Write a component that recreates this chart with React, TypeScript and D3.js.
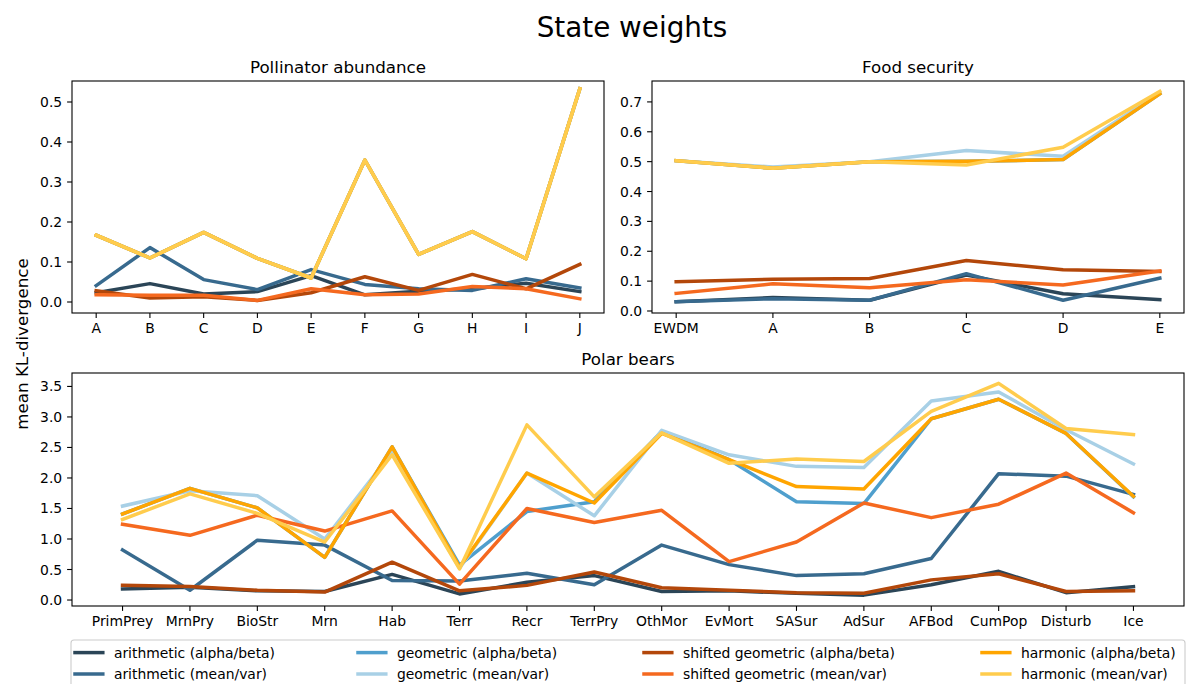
import React from "react";
import * as d3 from "d3";

// ---- categories ----
const pollinatorCats = ["A", "B", "C", "D", "E", "F", "G", "H", "I", "J"];
const foodCats = ["EWDM", "A", "B", "C", "D", "E"];
const polarCats = [
  "PrimPrey", "MrnPry", "BioStr", "Mrn", "Hab", "Terr", "Recr", "TerrPry",
  "OthMor", "EvMort", "SASur", "AdSur", "AFBod", "CumPop", "Disturb", "Ice",
];

// ---- series (legend order = draw order) ----
const seriesNames = [
  "arithmetic (alpha/beta)",
  "arithmetic (mean/var)",
  "geometric (alpha/beta)",
  "geometric (mean/var)",
  "shifted geometric (alpha/beta)",
  "shifted geometric (mean/var)",
  "harmonic (alpha/beta)",
  "harmonic (mean/var)",
];
const seriesColors = [
  "#2b4557", "#386a8e", "#4f9fcd", "#a8d0e6",
  "#b3470a", "#f5691f", "#ffa500", "#ffcc4d",
];

// ---- Pollinator abundance ----
const polArithAB = [0.023, 0.046, 0.020, 0.026, 0.066, 0.018, 0.027, 0.033, 0.047, 0.026];
const polArithMV = [0.041, 0.136, 0.056, 0.031, 0.081, 0.044, 0.033, 0.029, 0.058, 0.035];
const polGeomAB = [0.167, 0.110, 0.174, 0.109, 0.060, 0.355, 0.119, 0.176, 0.108, 0.533];
const polGeomMV = [0.167, 0.110, 0.174, 0.109, 0.060, 0.355, 0.119, 0.176, 0.108, 0.533];
const polShiftAB = [0.028, 0.010, 0.013, 0.004, 0.023, 0.063, 0.029, 0.069, 0.033, 0.094];
const polShiftMV = [0.018, 0.017, 0.017, 0.004, 0.033, 0.018, 0.020, 0.039, 0.033, 0.008];
const polHarmAB = [0.167, 0.110, 0.174, 0.109, 0.060, 0.355, 0.119, 0.176, 0.108, 0.533];
const polHarmMV = [0.167, 0.110, 0.174, 0.109, 0.060, 0.355, 0.119, 0.176, 0.108, 0.533];

// ---- Food security ----
const foodArithAB = [0.031, 0.045, 0.036, 0.120, 0.058, 0.038];
const foodArithMV = [0.031, 0.041, 0.036, 0.125, 0.036, 0.110];
const foodGeomAB = [0.503, 0.478, 0.500, 0.501, 0.507, 0.727];
const foodGeomMV = [0.503, 0.482, 0.500, 0.537, 0.518, 0.731];
const foodShiftAB = [0.098, 0.106, 0.109, 0.169, 0.138, 0.132];
const foodShiftMV = [0.059, 0.091, 0.078, 0.105, 0.087, 0.134];
const foodHarmAB = [0.503, 0.478, 0.500, 0.501, 0.507, 0.727];
const foodHarmMV = [0.503, 0.478, 0.500, 0.489, 0.548, 0.735];

// ---- Polar bears ----
const bearArithAB = [0.18, 0.21, 0.15, 0.14, 0.42, 0.10, 0.29, 0.40, 0.14, 0.15, 0.11, 0.08, 0.25, 0.47, 0.12, 0.22];
const bearArithMV = [0.82, 0.16, 0.98, 0.90, 0.32, 0.31, 0.44, 0.25, 0.90, 0.58, 0.40, 0.43, 0.68, 2.07, 2.03, 1.73];
const bearGeomAB = [1.41, 1.83, 1.51, 0.70, 2.51, 0.57, 1.45, 1.61, 2.76, 2.30, 1.61, 1.58, 2.97, 3.29, 2.73, 1.69];
const bearGeomMV = [1.54, 1.79, 1.71, 1.00, 2.42, 0.52, 2.08, 1.38, 2.78, 2.38, 2.19, 2.17, 3.26, 3.41, 2.79, 2.23];
const bearShiftAB = [0.24, 0.22, 0.16, 0.13, 0.62, 0.15, 0.24, 0.46, 0.20, 0.16, 0.12, 0.11, 0.33, 0.43, 0.14, 0.15];
const bearShiftMV = [1.24, 1.06, 1.39, 1.13, 1.46, 0.26, 1.50, 1.27, 1.47, 0.63, 0.95, 1.59, 1.35, 1.57, 2.08, 1.43];
const bearHarmAB = [1.41, 1.83, 1.51, 0.70, 2.51, 0.54, 2.08, 1.59, 2.73, 2.30, 1.86, 1.82, 2.97, 3.29, 2.73, 1.70];
const bearHarmMV = [1.32, 1.74, 1.42, 0.95, 2.38, 0.51, 2.87, 1.69, 2.74, 2.24, 2.31, 2.27, 3.09, 3.55, 2.81, 2.71];

const pollinatorSeries = [polArithAB, polArithMV, polGeomAB, polGeomMV, polShiftAB, polShiftMV, polHarmAB, polHarmMV];
const foodSeries = [foodArithAB, foodArithMV, foodGeomAB, foodGeomMV, foodShiftAB, foodShiftMV, foodHarmAB, foodHarmMV];
const bearSeries = [bearArithAB, bearArithMV, bearGeomAB, bearGeomMV, bearShiftAB, bearShiftMV, bearHarmAB, bearHarmMV];

const pollinatorTicks = [0, 0.1, 0.2, 0.3, 0.4, 0.5];
const foodTicks = [0, 0.1, 0.2, 0.3, 0.4, 0.5, 0.6, 0.7];
const bearTicks = [0, 0.5, 1, 1.5, 2, 2.5, 3, 3.5];

const FONT = "'DejaVu Sans', sans-serif";
const TICK_FS = 13.9;
const LINE_W = 3.5;

type PanelProps = {
  title: string;
  cats: string[];
  series: number[][];
  ticks: number[];
  yDomain: [number, number];
  left: number;
  right: number;
  top: number;
  bottom: number;
};

function Panel({ title, cats, series, ticks, yDomain, left, right, top, bottom }: PanelProps) {
  const n = cats.length;
  const pad = 0.05 * (n - 1);
  const x = d3.scaleLinear().domain([-pad, n - 1 + pad]).range([left, right]);
  const y = d3.scaleLinear().domain(yDomain).range([bottom, top]);
  const fmt = d3.format(".1f");
  const line = d3
    .line<number>()
    .x((_, i) => x(i))
    .y((d) => y(d));
  const tickLen = 4.9;
  const clipId = `clip-${title.replace(/\s/g, "")}`;
  return (
    <g>
      <defs>
        <clipPath id={clipId}>
          <rect x={left} y={top} width={right - left} height={bottom - top} />
        </clipPath>
      </defs>
      <g clipPath={`url(#${clipId})`}>
        {series.map((vals, si) => (
          <path
            key={si}
            d={line(vals) || ""}
            fill="none"
            stroke={seriesColors[si]}
            strokeWidth={LINE_W}
            strokeLinejoin="round"
            strokeLinecap="square"
          />
        ))}
      </g>
      <rect
        x={left}
        y={top}
        width={right - left}
        height={bottom - top}
        fill="none"
        stroke="#000"
        strokeWidth={1.1}
      />
      {ticks.map((t) => (
        <g key={`y${t}`}>
          <line x1={left} x2={left - tickLen} y1={y(t)} y2={y(t)} stroke="#000" strokeWidth={1.1} />
          <text
            x={left - tickLen - 4.9}
            y={y(t)}
            dy="0.36em"
            textAnchor="end"
            fontSize={TICK_FS}
            fontFamily={FONT}
            fill="#000"
          >
            {fmt(t)}
          </text>
        </g>
      ))}
      {cats.map((c, i) => (
        <g key={`x${c}${i}`}>
          <line x1={x(i)} x2={x(i)} y1={bottom} y2={bottom + tickLen} stroke="#000" strokeWidth={1.1} />
          <text
            x={x(i)}
            y={bottom + tickLen + 4.9}
            dy="0.76em"
            textAnchor="middle"
            fontSize={TICK_FS}
            fontFamily={FONT}
            fill="#000"
          >
            {c}
          </text>
        </g>
      ))}
      <text
        x={(left + right) / 2}
        y={top - 8.3}
        textAnchor="middle"
        fontSize={16.7}
        fontFamily={FONT}
        fill="#000"
      >
        {title}
      </text>
    </g>
  );
}

function Legend() {
  const boxLeft = 71;
  const boxRight = 1185;
  const boxTop = 640;
  const colX = [75, 358, 644, 982];
  const rowY = [652.6, 674];
  return (
    <g>
      <rect
        x={boxLeft}
        y={boxTop}
        width={boxRight - boxLeft}
        height={70}
        rx={3}
        fill="#fff"
        fillOpacity={0.8}
        stroke="#cccccc"
        strokeWidth={1.1}
      />
      {seriesNames.map((name, i) => {
        const col = Math.floor(i / 2);
        const row = i % 2;
        const hx = colX[col];
        const hy = rowY[row];
        return (
          <g key={name}>
            <line x1={hx} x2={hx + 27.8} y1={hy} y2={hy} stroke={seriesColors[i]} strokeWidth={LINE_W} strokeLinecap="square" />
            <text x={hx + 38.9} y={hy} dy="0.36em" fontSize={TICK_FS} fontFamily={FONT} fill="#000">
              {name}
            </text>
          </g>
        );
      })}
    </g>
  );
}

export default function App() {
  return (
    <svg
      width={1187}
      height={684}
      style={{ position: "absolute", left: 0, top: 0, background: "#fff" }}
    >
      <rect width={1187} height={684} fill="#fff" />
      <text x={632} y={37} textAnchor="middle" fontSize={27.8} fontFamily={FONT} fill="#000">
        State weights
      </text>
      <Panel
        title="Pollinator abundance"
        cats={pollinatorCats}
        series={pollinatorSeries}
        ticks={pollinatorTicks}
        yDomain={[-0.0275, 0.5525]}
        left={72}
        right={604}
        top={81}
        bottom={313}
      />
      <Panel
        title="Food security"
        cats={foodCats}
        series={foodSeries}
        ticks={foodTicks}
        yDomain={[-0.0067, 0.77]}
        left={652}
        right={1184}
        top={81}
        bottom={313}
      />
      <Panel
        title="Polar bears"
        cats={polarCats}
        series={bearSeries}
        ticks={bearTicks}
        yDomain={[-0.098, 3.72]}
        left={72}
        right={1184}
        top={373}
        bottom={606}
      />
      <text
        transform={`translate(28,344) rotate(-90)`}
        textAnchor="middle"
        fontSize={16.7}
        fontFamily={FONT}
        fill="#000"
      >
        mean KL-divergence
      </text>
      <Legend />
    </svg>
  );
}
